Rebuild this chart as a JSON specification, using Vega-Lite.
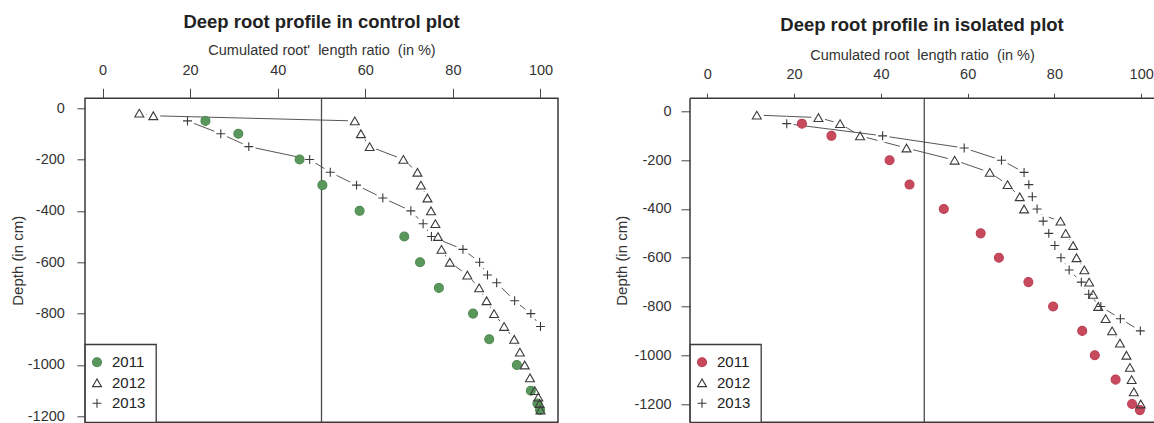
{
  "$schema": "https://vega.github.io/schema/vega-lite/v6.json",
  "background": "white",
  "padding": {"left": 9, "top": 11.3, "right": 0, "bottom": 0},
  "spacing": 55,
  "config": {
    "font": "Liberation Sans",
    "view": {"stroke": "#3a3a3a", "strokeWidth": 1.5},
    "axis": {"labelFont": "Liberation Sans", "labelFontSize": 14.5, "labelColor": "#333", "titleFont": "Liberation Sans", "titleFontSize": 14.5, "titleFontWeight": "normal", "titleColor": "#333", "domain": false, "grid": false, "tickColor": "#444", "tickWidth": 1, "labelExpr": "datum.value + ''"},
    "axisLeft": {"titleFontSize": 15},
    "title": {"font": "Liberation Sans", "fontSize": 18.5, "fontWeight": "bold", "color": "#222", "anchor": "middle"},
    "legend": {"orient": "bottom-left", "offset": 0, "padding": 10.5, "strokeColor": "#3a3a3a", "strokeWidth": 1.3, "fillColor": "white", "symbolSize": 80, "symbolStrokeWidth": 1.1, "symbolOffset": -6, "labelFont": "Liberation Sans", "labelFontSize": 15, "labelColor": "#222", "labelOffset": 7.5, "rowPadding": 4.5, "title": null}
  },
  "datasets": {
    "roots": [
      {"plot": "control", "year": "2011", "depth": -50, "ratio": 23.5},
      {"plot": "control", "year": "2011", "depth": -100, "ratio": 31},
      {"plot": "control", "year": "2011", "depth": -200, "ratio": 45},
      {"plot": "control", "year": "2011", "depth": -300, "ratio": 50.2},
      {"plot": "control", "year": "2011", "depth": -400, "ratio": 58.7},
      {"plot": "control", "year": "2011", "depth": -500, "ratio": 68.9},
      {"plot": "control", "year": "2011", "depth": -600, "ratio": 72.5},
      {"plot": "control", "year": "2011", "depth": -700, "ratio": 76.8},
      {"plot": "control", "year": "2011", "depth": -800, "ratio": 84.6},
      {"plot": "control", "year": "2011", "depth": -900, "ratio": 88.3},
      {"plot": "control", "year": "2011", "depth": -1000, "ratio": 94.6},
      {"plot": "control", "year": "2011", "depth": -1100, "ratio": 97.8},
      {"plot": "control", "year": "2011", "depth": -1150, "ratio": 99.3},
      {"plot": "control", "year": "2011", "depth": -1175, "ratio": 99.9},
      {"plot": "control", "year": "2012", "depth": -20, "ratio": 8.4},
      {"plot": "control", "year": "2012", "depth": -30, "ratio": 11.6},
      {"plot": "control", "year": "2012", "depth": -50, "ratio": 57.6},
      {"plot": "control", "year": "2012", "depth": -100, "ratio": 59},
      {"plot": "control", "year": "2012", "depth": -150, "ratio": 61},
      {"plot": "control", "year": "2012", "depth": -200, "ratio": 68.7},
      {"plot": "control", "year": "2012", "depth": -250, "ratio": 71.9},
      {"plot": "control", "year": "2012", "depth": -300, "ratio": 72.7},
      {"plot": "control", "year": "2012", "depth": -350, "ratio": 74.2},
      {"plot": "control", "year": "2012", "depth": -400, "ratio": 75},
      {"plot": "control", "year": "2012", "depth": -450, "ratio": 76},
      {"plot": "control", "year": "2012", "depth": -500, "ratio": 76.6},
      {"plot": "control", "year": "2012", "depth": -550, "ratio": 77.4},
      {"plot": "control", "year": "2012", "depth": -600, "ratio": 79.3},
      {"plot": "control", "year": "2012", "depth": -650, "ratio": 83.3},
      {"plot": "control", "year": "2012", "depth": -700, "ratio": 86},
      {"plot": "control", "year": "2012", "depth": -750, "ratio": 87.7},
      {"plot": "control", "year": "2012", "depth": -800, "ratio": 89.4},
      {"plot": "control", "year": "2012", "depth": -850, "ratio": 91.7},
      {"plot": "control", "year": "2012", "depth": -900, "ratio": 94},
      {"plot": "control", "year": "2012", "depth": -950, "ratio": 95.3},
      {"plot": "control", "year": "2012", "depth": -1000, "ratio": 96.4},
      {"plot": "control", "year": "2012", "depth": -1050, "ratio": 97.6},
      {"plot": "control", "year": "2012", "depth": -1100, "ratio": 98.7},
      {"plot": "control", "year": "2012", "depth": -1125, "ratio": 99.5},
      {"plot": "control", "year": "2012", "depth": -1150, "ratio": 99.8},
      {"plot": "control", "year": "2012", "depth": -1175, "ratio": 100},
      {"plot": "control", "year": "2013", "depth": -50, "ratio": 19.4},
      {"plot": "control", "year": "2013", "depth": -100, "ratio": 27},
      {"plot": "control", "year": "2013", "depth": -150, "ratio": 33.4},
      {"plot": "control", "year": "2013", "depth": -200, "ratio": 47.3},
      {"plot": "control", "year": "2013", "depth": -250, "ratio": 52},
      {"plot": "control", "year": "2013", "depth": -300, "ratio": 58},
      {"plot": "control", "year": "2013", "depth": -350, "ratio": 64},
      {"plot": "control", "year": "2013", "depth": -400, "ratio": 70.4},
      {"plot": "control", "year": "2013", "depth": -450, "ratio": 73.2},
      {"plot": "control", "year": "2013", "depth": -500, "ratio": 75.1},
      {"plot": "control", "year": "2013", "depth": -550, "ratio": 82.3},
      {"plot": "control", "year": "2013", "depth": -600, "ratio": 86.1},
      {"plot": "control", "year": "2013", "depth": -650, "ratio": 87.9},
      {"plot": "control", "year": "2013", "depth": -680, "ratio": 90},
      {"plot": "control", "year": "2013", "depth": -750, "ratio": 94.1},
      {"plot": "control", "year": "2013", "depth": -800, "ratio": 97.8},
      {"plot": "control", "year": "2013", "depth": -850, "ratio": 100},
      {"plot": "isolated", "year": "2011", "depth": -50, "ratio": 21.8},
      {"plot": "isolated", "year": "2011", "depth": -100, "ratio": 28.6},
      {"plot": "isolated", "year": "2011", "depth": -200, "ratio": 42},
      {"plot": "isolated", "year": "2011", "depth": -300, "ratio": 46.6},
      {"plot": "isolated", "year": "2011", "depth": -400, "ratio": 54.5},
      {"plot": "isolated", "year": "2011", "depth": -500, "ratio": 63},
      {"plot": "isolated", "year": "2011", "depth": -600, "ratio": 67.2},
      {"plot": "isolated", "year": "2011", "depth": -700, "ratio": 74},
      {"plot": "isolated", "year": "2011", "depth": -800, "ratio": 79.7},
      {"plot": "isolated", "year": "2011", "depth": -900, "ratio": 86.4},
      {"plot": "isolated", "year": "2011", "depth": -1000, "ratio": 89.3},
      {"plot": "isolated", "year": "2011", "depth": -1100, "ratio": 94.1},
      {"plot": "isolated", "year": "2011", "depth": -1200, "ratio": 97.9},
      {"plot": "isolated", "year": "2011", "depth": -1225, "ratio": 99.7},
      {"plot": "isolated", "year": "2012", "depth": -15, "ratio": 11.4},
      {"plot": "isolated", "year": "2012", "depth": -25, "ratio": 25.6},
      {"plot": "isolated", "year": "2012", "depth": -50, "ratio": 30.6},
      {"plot": "isolated", "year": "2012", "depth": -100, "ratio": 35.2},
      {"plot": "isolated", "year": "2012", "depth": -150, "ratio": 45.9},
      {"plot": "isolated", "year": "2012", "depth": -200, "ratio": 57},
      {"plot": "isolated", "year": "2012", "depth": -250, "ratio": 65.1},
      {"plot": "isolated", "year": "2012", "depth": -300, "ratio": 69.2},
      {"plot": "isolated", "year": "2012", "depth": -350, "ratio": 72},
      {"plot": "isolated", "year": "2012", "depth": -400, "ratio": 73},
      {"plot": "isolated", "year": "2012", "depth": -450, "ratio": 81.4},
      {"plot": "isolated", "year": "2012", "depth": -500, "ratio": 82.6},
      {"plot": "isolated", "year": "2012", "depth": -550, "ratio": 84.3},
      {"plot": "isolated", "year": "2012", "depth": -600, "ratio": 85.1},
      {"plot": "isolated", "year": "2012", "depth": -650, "ratio": 86.9},
      {"plot": "isolated", "year": "2012", "depth": -700, "ratio": 88},
      {"plot": "isolated", "year": "2012", "depth": -750, "ratio": 88.9},
      {"plot": "isolated", "year": "2012", "depth": -800, "ratio": 90.1},
      {"plot": "isolated", "year": "2012", "depth": -850, "ratio": 91.8},
      {"plot": "isolated", "year": "2012", "depth": -900, "ratio": 93.3},
      {"plot": "isolated", "year": "2012", "depth": -950, "ratio": 95.1},
      {"plot": "isolated", "year": "2012", "depth": -1000, "ratio": 96.6},
      {"plot": "isolated", "year": "2012", "depth": -1050, "ratio": 97.4},
      {"plot": "isolated", "year": "2012", "depth": -1100, "ratio": 97.8},
      {"plot": "isolated", "year": "2012", "depth": -1150, "ratio": 98.3},
      {"plot": "isolated", "year": "2012", "depth": -1200, "ratio": 99.9},
      {"plot": "isolated", "year": "2013", "depth": -50, "ratio": 18.3},
      {"plot": "isolated", "year": "2013", "depth": -100, "ratio": 40.4},
      {"plot": "isolated", "year": "2013", "depth": -150, "ratio": 59.2},
      {"plot": "isolated", "year": "2013", "depth": -200, "ratio": 67.8},
      {"plot": "isolated", "year": "2013", "depth": -250, "ratio": 73},
      {"plot": "isolated", "year": "2013", "depth": -300, "ratio": 74.1},
      {"plot": "isolated", "year": "2013", "depth": -350, "ratio": 74.9},
      {"plot": "isolated", "year": "2013", "depth": -400, "ratio": 76},
      {"plot": "isolated", "year": "2013", "depth": -450, "ratio": 77.4},
      {"plot": "isolated", "year": "2013", "depth": -500, "ratio": 78.7},
      {"plot": "isolated", "year": "2013", "depth": -550, "ratio": 80.1},
      {"plot": "isolated", "year": "2013", "depth": -600, "ratio": 81.5},
      {"plot": "isolated", "year": "2013", "depth": -650, "ratio": 83.4},
      {"plot": "isolated", "year": "2013", "depth": -700, "ratio": 86.2},
      {"plot": "isolated", "year": "2013", "depth": -750, "ratio": 87.9},
      {"plot": "isolated", "year": "2013", "depth": -800, "ratio": 90.7},
      {"plot": "isolated", "year": "2013", "depth": -850, "ratio": 95.2},
      {"plot": "isolated", "year": "2013", "depth": -900, "ratio": 99.8}
    ]
  },
  "resolve": {"scale": {"fill": "independent", "stroke": "independent", "shape": "independent", "x": "independent", "y": "independent"}},
  "hconcat": [
    {
      "width": 473,
      "height": 324,
      "title": {"text": "Deep root profile in control plot", "offset": 11.5},
      "data": {"name": "roots"},
      "transform": [{"filter": "datum.plot == 'control'"}],
      "layer": [
        {
          "transform": [{"filter": "datum.year == '2013'"}],
          "mark": {"type": "line", "color": "#555", "strokeWidth": 1},
          "encoding": {
            "x": {"field": "ratio", "type": "quantitative", "scale": {"domain": [-4, 104], "nice": false, "zero": false},
              "axis": {"orient": "top", "values": [0, 20, 40, 60, 80, 100], "title": "Cumulated root'\u00a0 length ratio\u00a0 (in %)", "tickSize": 10, "labelPadding": 10.5, "titlePadding": 5}},
            "y": {"field": "depth", "type": "quantitative", "scale": {"domain": [-1223, 38], "nice": false, "zero": false},
              "axis": {"orient": "left", "values": [0, -200, -400, -600, -800, -1000, -1200], "title": "Depth (in cm)", "tickSize": 8, "labelPadding": 12.7, "titlePadding": 2.2}},
            "order": {"field": "depth", "type": "quantitative", "sort": "descending"}
          }
        },
        {
          "transform": [{"filter": "datum.year == '2013'"}],
          "mark": {"type": "point", "shape": "circle", "filled": true, "fill": "white", "strokeWidth": 0, "opacity": 1, "size": 196},
          "encoding": {
            "x": {"field": "ratio", "type": "quantitative"},
            "y": {"field": "depth", "type": "quantitative"}
          }
        },
        {
          "transform": [{"filter": "datum.year == '2012'"}],
          "mark": {"type": "line", "color": "#555", "strokeWidth": 1},
          "encoding": {
            "x": {"field": "ratio", "type": "quantitative"},
            "y": {"field": "depth", "type": "quantitative"},
            "order": {"field": "depth", "type": "quantitative", "sort": "descending"}
          }
        },
        {
          "transform": [{"filter": "datum.year == '2012'"}],
          "mark": {"type": "point", "shape": "circle", "filled": true, "fill": "white", "strokeWidth": 0, "opacity": 1, "size": 196},
          "encoding": {
            "x": {"field": "ratio", "type": "quantitative"},
            "y": {"field": "depth", "type": "quantitative"}
          }
        },
        {
          "data": {"values": [{"plot": "control"}]},
          "mark": {"type": "rule", "color": "#4a4a4a", "strokeWidth": 1.3},
          "encoding": {"x": {"datum": 50, "type": "quantitative"}}
        },
        {
          "mark": {"type": "point", "filled": true, "opacity": 1, "strokeWidth": 1.1, "size": 80},
          "encoding": {
            "x": {"field": "ratio", "type": "quantitative"},
            "y": {"field": "depth", "type": "quantitative"},
            "fill": {"field": "year", "type": "nominal", "scale": {"domain": ["2011", "2012", "2013"], "range": ["#5a975c", "transparent", "transparent"]}, "legend": {"title": null}},
            "stroke": {"field": "year", "type": "nominal", "scale": {"domain": ["2011", "2012", "2013"], "range": ["#4f8a52", "#3a3a3a", "#3a3a3a"]}, "legend": {"title": null}},
            "shape": {"field": "year", "type": "nominal", "scale": {"domain": ["2011", "2012", "2013"], "range": ["circle", "triangle-up", "M-1,0H1M0,-1V1"]}, "legend": {"title": null}}
          }
        }
      ]
    },
    {
      "width": 464,
      "height": 324,
      "view": {"stroke": null},
      "title": {"text": "Deep root profile in isolated plot", "offset": 13.3},
      "data": {"name": "roots"},
      "transform": [{"filter": "datum.plot == 'isolated'"}],
      "layer": [
        {
          "transform": [{"filter": "datum.year == '2012'"}],
          "mark": {"type": "line", "color": "#555", "strokeWidth": 1},
          "encoding": {
            "x": {"field": "ratio", "type": "quantitative", "scale": {"domain": [-4, 102.95], "nice": false, "zero": false},
              "axis": {"orient": "top", "values": [0, 20, 40, 60, 80, 100], "title": "Cumulated root\u00a0 length ratio\u00a0 (in %)", "tickSize": 5, "labelPadding": 12.2, "titlePadding": 3.3}},
            "y": {"field": "depth", "type": "quantitative", "scale": {"domain": [-1275, 54], "nice": false, "zero": false},
              "axis": {"orient": "left", "values": [0, -200, -400, -600, -800, -1000, -1200], "title": "Depth (in cm)", "tickSize": 9, "labelPadding": 10, "titlePadding": 4.5}},
            "order": {"field": "depth", "type": "quantitative", "sort": "descending"}
          }
        },
        {
          "transform": [{"filter": "datum.year == '2012'"}],
          "mark": {"type": "point", "shape": "circle", "filled": true, "fill": "white", "strokeWidth": 0, "opacity": 1, "size": 196},
          "encoding": {
            "x": {"field": "ratio", "type": "quantitative"},
            "y": {"field": "depth", "type": "quantitative"}
          }
        },
        {
          "transform": [{"filter": "datum.year == '2013'"}],
          "mark": {"type": "line", "color": "#555", "strokeWidth": 1},
          "encoding": {
            "x": {"field": "ratio", "type": "quantitative"},
            "y": {"field": "depth", "type": "quantitative"},
            "order": {"field": "depth", "type": "quantitative", "sort": "descending"}
          }
        },
        {
          "transform": [{"filter": "datum.year == '2013'"}],
          "mark": {"type": "point", "shape": "circle", "filled": true, "fill": "white", "strokeWidth": 0, "opacity": 1, "size": 196},
          "encoding": {
            "x": {"field": "ratio", "type": "quantitative"},
            "y": {"field": "depth", "type": "quantitative"}
          }
        },
        {
          "data": {"values": [{"plot": "isolated"}]},
          "mark": {"type": "rule", "color": "#4a4a4a", "strokeWidth": 1.3},
          "encoding": {"x": {"datum": 50, "type": "quantitative"}}
        },
        {
          "data": {"values": [{"plot": "isolated"}]},
          "mark": {"type": "rule", "color": "#3a3a3a", "strokeWidth": 1.5},
          "encoding": {"x": {"datum": -4, "type": "quantitative"}}
        },
        {
          "data": {"values": [{"plot": "isolated"}]},
          "mark": {"type": "rule", "color": "#3a3a3a", "strokeWidth": 1.5},
          "encoding": {"y": {"datum": 54, "type": "quantitative"}}
        },
        {
          "data": {"values": [{"plot": "isolated"}]},
          "mark": {"type": "rule", "color": "#3a3a3a", "strokeWidth": 1.5},
          "encoding": {"y": {"datum": -1275, "type": "quantitative"}}
        },
        {
          "mark": {"type": "point", "filled": true, "opacity": 1, "strokeWidth": 1.1, "size": 80},
          "encoding": {
            "x": {"field": "ratio", "type": "quantitative"},
            "y": {"field": "depth", "type": "quantitative"},
            "fill": {"field": "year", "type": "nominal", "scale": {"domain": ["2011", "2012", "2013"], "range": ["#c8485c", "transparent", "transparent"]}, "legend": {"title": null}},
            "stroke": {"field": "year", "type": "nominal", "scale": {"domain": ["2011", "2012", "2013"], "range": ["#b93f53", "#3a3a3a", "#3a3a3a"]}, "legend": {"title": null}},
            "shape": {"field": "year", "type": "nominal", "scale": {"domain": ["2011", "2012", "2013"], "range": ["circle", "triangle-up", "M-1,0H1M0,-1V1"]}, "legend": {"title": null}}
          }
        }
      ]
    }
  ]
}
